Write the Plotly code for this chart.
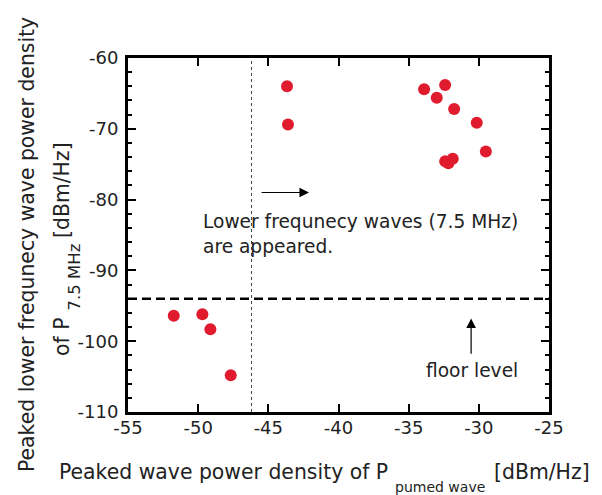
import plotly.graph_objects as go

# Data
pump_power = [-43.67, -43.6, -33.9, -32.4, -33.0, -31.76, -30.15, -29.5,
              -32.4, -31.86, -32.17, -51.74, -49.7, -49.13, -47.68]
low_freq_power = [-64.0, -69.4, -64.4, -63.8, -65.6, -67.2, -69.15, -73.2,
                  -74.6, -74.24, -74.85, -96.4, -96.2, -98.3, -104.8]

floor_level = -94.0
threshold_pump = -46.2

x_ticks = [-55, -50, -45, -40, -35, -30, -25]
y_ticks = [-60, -70, -80, -90, -100, -110]

FONT = "DejaVu Sans"
TXT = "#222222"

# plot-area pixel geometry (used only to place titles in paper units)
PX0, PX1, PY0, PY1 = 128, 549, 58, 412


def px(x):
    return (x - PX0) / (PX1 - PX0)


def py(y):
    return (PY1 - y) / (PY1 - PY0)


fig = go.Figure()
fig.add_trace(go.Scatter(
    x=pump_power, y=low_freq_power, mode="markers",
    marker=dict(color="#E01B2E", size=12, line=dict(width=0)),
    showlegend=False, hoverinfo="x+y",
))

fig.add_shape(type="line", xref="x", yref="paper", x0=threshold_pump, x1=threshold_pump,
              y0=0, y1=1, line=dict(color="#444444", width=1, dash="3px,3px"))
fig.add_shape(type="line", xref="paper", yref="y", x0=0, x1=1,
              y0=floor_level, y1=floor_level, line=dict(color="black", width=2.5, dash="9px,5px"))

TF = dict(family=FONT, size=20.4, color=TXT)
SF = dict(family=FONT, size=14, color=TXT)
SF2 = dict(family=FONT, size=16.5, color=TXT)
IF = dict(family=FONT, size=18.6, color=TXT)

annotations = [
    dict(x=-42.1, y=-79.0, ax=-45.59, ay=-79.0, xref="x", yref="y", axref="x", ayref="y",
         text="", showarrow=True, arrowhead=2, arrowsize=1.6, arrowwidth=1.2, arrowcolor="black"),
    dict(x=-30.55, y=-96.78, ax=-30.55, ay=-101.97, xref="x", yref="y", axref="x", ayref="y",
         text="", showarrow=True, arrowhead=2, arrowsize=1.6, arrowwidth=1.2, arrowcolor="black"),
    dict(x=-49.82, y=-83.1, xref="x", yref="y", xanchor="left", yanchor="middle",
         text="Lower frequnecy waves (7.5 MHz)", showarrow=False, font=IF),
    dict(x=-49.82, y=-86.65, xref="x", yref="y", xanchor="left", yanchor="middle",
         text="are appeared.", showarrow=False, font=IF),
    dict(x=-30.5, y=-104.1, xref="x", yref="y", xanchor="center", yanchor="middle",
         text="floor level", showarrow=False, font=IF),
    # x-axis title pieces
    dict(x=px(390), y=py(472), xref="paper", yref="paper", xanchor="right", yanchor="middle",
         text="Peaked wave power density of P", showarrow=False, font=TF),
    dict(x=px(393), y=py(487), xref="paper", yref="paper", xanchor="left", yanchor="middle",
         text="pumed wave", showarrow=False, font=SF),
    dict(x=px(492), y=py(472), xref="paper", yref="paper", xanchor="left", yanchor="middle",
         text="[dBm/Hz]", showarrow=False, font=TF),
    # y-axis title pieces (rotated)
    dict(x=px(27), y=py(245), xref="paper", yref="paper", xanchor="center", yanchor="middle",
         textangle=-90, text="Peaked lower frequnecy wave power density", showarrow=False, font=TF),
    dict(x=px(62), y=py(316), xref="paper", yref="paper", xanchor="center", yanchor="top",
         textangle=-90, text="of P", showarrow=False, font=TF),
    dict(x=px(74), y=py(313), xref="paper", yref="paper", xanchor="center", yanchor="bottom",
         textangle=-90, text="7.5 MHz", showarrow=False, font=SF2),
    dict(x=px(62), y=py(240), xref="paper", yref="paper", xanchor="center", yanchor="bottom",
         textangle=-90, text="[dBm/Hz]", showarrow=False, font=TF),
]

fig.update_layout(
    width=602, height=495,
    margin=dict(l=PX0 - 8, r=602 - PX1 + 8, t=PY0 - 8, b=495 - PY1 + 8),
    paper_bgcolor="white", plot_bgcolor="white",
    annotations=annotations,
    font=dict(family=FONT, size=18, color=TXT),
)
fig.update_xaxes(
    range=[-55, -25], tickvals=x_ticks, ticktext=[str(v) for v in x_ticks],
    showgrid=False, zeroline=False, showline=True, linewidth=3, linecolor="black",
    mirror="ticks", ticks="inside", ticklen=8, tickwidth=2, tickcolor="black",
    tickfont=dict(family=FONT, size=18, color=TXT), ticklabelstandoff=-3, automargin=False,
)
fig.update_yaxes(
    range=[-110, -60], tickvals=y_ticks, ticktext=[str(v) for v in y_ticks],
    showgrid=False, zeroline=False, showline=True, linewidth=3, linecolor="black",
    mirror="ticks", ticks="inside", ticklen=8, tickwidth=2, tickcolor="black",
    minor=dict(dtick=2, ticks="inside", ticklen=4, tickwidth=1.5, tickcolor="black", showgrid=False),
    tickfont=dict(family=FONT, size=18, color=TXT), ticklabelstandoff=3, automargin=False,
)

fig.write_html("out.html")
